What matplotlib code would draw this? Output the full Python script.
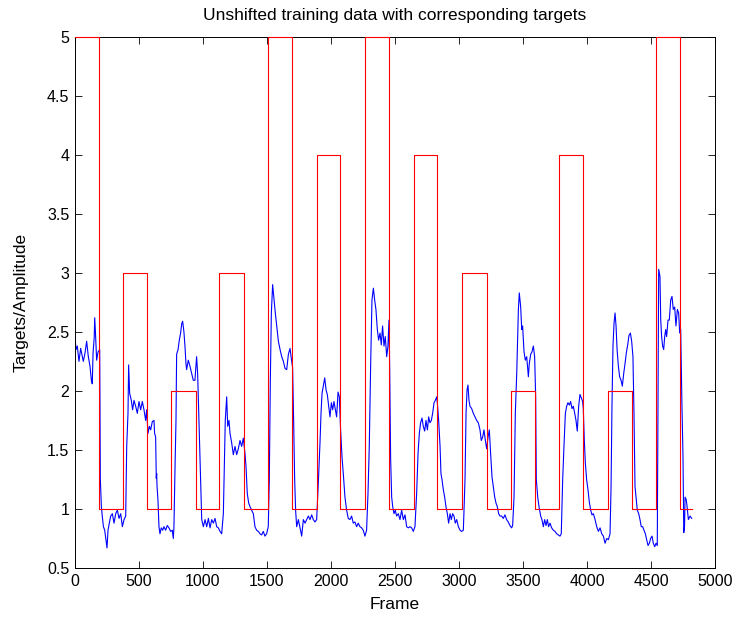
import matplotlib
matplotlib.use("Agg")
import matplotlib.pyplot as plt
import numpy as np

plt.rcParams['font.family'] = ['Liberation Sans', 'DejaVu Sans']

# Target step boundaries (frames) and levels
target_edges = [0, 185, 375, 565, 750, 945, 1128, 1323, 1508, 1692, 1888, 2070, 2266, 2451,
                2645, 2831, 3026, 3221, 3405, 3591, 3785, 3969, 4164, 4352, 4542, 4727, 4818]
target_levels = [5, 1, 3, 1, 2, 1, 3, 1, 5, 1, 4, 1, 5, 1, 4, 1, 3, 1, 2, 1, 4, 1, 2, 1, 5, 1]

frames = [0, 8, 18, 31, 44, 55, 65, 78, 91, 104, 117, 128, 135, 141, 150, 154, 160, 169, 180, 193,
          198, 206, 213, 222, 232, 242, 250, 258, 268, 279, 292, 305, 318, 331, 344, 357, 370, 383, 396,
          404, 414, 419, 427, 440, 450, 461, 474, 487, 500, 513, 526, 539, 552, 560, 570, 581, 591, 604,
          617, 622, 630, 635, 638, 641, 648, 656, 664, 674, 685, 695, 708, 721, 734, 747, 760, 768, 773,
          781, 789, 794, 805, 815, 825, 834, 841, 851, 859, 867, 872, 885, 898, 911, 924, 937, 950, 958,
          969, 982, 990, 1003, 1016, 1029, 1042, 1055, 1068, 1081, 1094, 1107, 1120, 1133, 1146, 1159,
          1167, 1174, 1185, 1193, 1203, 1211, 1224, 1237, 1250, 1263, 1276, 1289, 1302, 1315, 1328, 1336,
          1346, 1357, 1367, 1380, 1393, 1406, 1419, 1432, 1445, 1458, 1471, 1484, 1497, 1510, 1518, 1526,
          1534, 1544, 1555, 1565, 1576, 1589, 1602, 1615, 1628, 1641, 1654, 1667, 1680, 1688, 1700, 1708,
          1716, 1724, 1732, 1745, 1758, 1771, 1784, 1797, 1810, 1823, 1836, 1849, 1862, 1875, 1888, 1896,
          1904, 1914, 1922, 1930, 1940, 1951, 1961, 1971, 1982, 1992, 2003, 2013, 2023, 2034, 2044, 2055,
          2065, 2075, 2086, 2096, 2109, 2122, 2135, 2148, 2161, 2174, 2187, 2200, 2213, 2226, 2239, 2252,
          2265, 2278, 2289, 2299, 2310, 2320, 2331, 2341, 2351, 2362, 2372, 2383, 2393, 2403, 2414, 2424,
          2435, 2445, 2453, 2458, 2466, 2474, 2482, 2492, 2502, 2513, 2526, 2539, 2552, 2565, 2578, 2591,
          2604, 2617, 2630, 2643, 2656, 2669, 2680, 2690, 2700, 2711, 2721, 2732, 2742, 2753, 2763, 2773,
          2784, 2794, 2805, 2815, 2826, 2833, 2841, 2852, 2859, 2867, 2878, 2888, 2898, 2909, 2919, 2930,
          2940, 2950, 2961, 2971, 2982, 2995, 3008, 3021, 3034, 3047, 3055, 3063, 3070, 3078, 3086, 3099,
          3112, 3125, 3138, 3151, 3164, 3174, 3185, 3195, 3206, 3216, 3227, 3237, 3247, 3258, 3268, 3279,
          3289, 3299, 3310, 3320, 3333, 3346, 3359, 3372, 3385, 3398, 3411, 3419, 3430, 3440, 3451, 3464,
          3471, 3482, 3490, 3497, 3508, 3518, 3529, 3542, 3549, 3560, 3570, 3581, 3591, 3599, 3604, 3615,
          3625, 3638, 3648, 3659, 3669, 3680, 3690, 3700, 3711, 3724, 3737, 3750, 3763, 3776, 3789, 3799,
          3810, 3820, 3831, 3841, 3851, 3862, 3872, 3883, 3893, 3904, 3914, 3924, 3935, 3945, 3956, 3966,
          3971, 3979, 3987, 3997, 4008, 4018, 4029, 4039, 4050, 4063, 4076, 4089, 4102, 4115, 4128, 4141,
          4154, 4167, 4180, 4188, 4195, 4203, 4211, 4219, 4227, 4235, 4245, 4255, 4266, 4276, 4287, 4297,
          4307, 4318, 4328, 4339, 4349, 4359, 4367, 4375, 4383, 4393, 4404, 4414, 4424, 4435, 4445, 4456,
          4466, 4477, 4487, 4497, 4508, 4518, 4529, 4539, 4549, 4553, 4560, 4570, 4576, 4583, 4591, 4599,
          4607, 4615, 4622, 4633, 4643, 4654, 4664, 4674, 4685, 4695, 4706, 4716, 4724, 4732, 4741, 4750,
          4756, 4762, 4766, 4775, 4782, 4792, 4805, 4818]
amplitude = [2.46, 2.35, 2.38, 2.25, 2.36, 2.30, 2.25, 2.32, 2.42, 2.29, 2.21, 2.09, 2.06, 2.32, 2.45, 2.62, 2.49, 2.26, 2.33, 2.35,
             1.25, 1.02, 0.94, 0.85, 0.82, 0.74, 0.67, 0.82, 0.88, 0.94, 0.96, 0.88, 0.96, 0.99, 0.92, 0.96, 0.85, 0.91, 0.94,
             1.53, 1.81, 2.22, 1.98, 1.92, 1.84, 1.92, 1.87, 1.81, 1.91, 1.84, 1.91, 1.84, 1.75, 1.84, 1.64, 1.70, 1.67, 1.74,
             1.75, 1.64, 1.61, 1.26, 1.30, 1.19, 1.08, 0.85, 0.79, 0.84, 0.82, 0.85, 0.82, 0.86, 0.84, 0.81, 0.82, 0.75, 0.85,
             1.33, 1.75, 2.31, 2.35, 2.43, 2.49, 2.57, 2.59, 2.50, 2.38, 2.23, 2.18, 2.26, 2.21, 2.15, 2.09, 2.09, 2.29, 2.15,
             1.73, 1.25, 0.91, 0.85, 0.91, 0.85, 0.92, 0.84, 0.91, 0.88, 0.92, 0.85, 0.84, 0.81, 0.79, 0.96,
             1.36, 1.75, 1.95, 1.70, 1.75, 1.64, 1.56, 1.46, 1.53, 1.46, 1.51, 1.58, 1.53, 1.60, 1.47, 1.36,
             1.13, 1.05, 1.02, 0.99, 0.96, 0.85, 0.82, 0.81, 0.79, 0.78, 0.81, 0.77, 0.79, 0.85, 1.25, 2.09,
             2.66, 2.90, 2.77, 2.66, 2.55, 2.42, 2.35, 2.29, 2.25, 2.19, 2.18, 2.31, 2.36, 2.29, 2.20, 1.75,
             1.25, 0.98, 0.85, 0.91, 0.84, 0.77, 0.91, 0.88, 0.91, 0.94, 0.91, 0.95, 0.91, 0.89, 0.91, 1.10,
             1.30, 1.56, 1.81, 1.98, 2.04, 2.11, 2.01, 1.97, 1.87, 1.78, 1.90, 1.84, 1.91, 1.84, 1.78, 1.99,
             1.95, 1.67, 1.44, 1.30, 1.10, 0.99, 0.92, 0.91, 0.94, 0.88, 0.89, 0.85, 0.88, 0.85, 0.84, 0.82,
             0.77, 0.82, 1.13, 1.53, 2.23, 2.77, 2.87, 2.77, 2.69, 2.52, 2.43, 2.49, 2.39, 2.55, 2.38, 2.46,
             2.29, 2.38, 2.60, 2.23, 1.42, 1.10, 1.02, 0.96, 0.99, 0.94, 0.96, 0.91, 0.99, 0.91, 0.95, 0.85,
             0.84, 0.85, 0.84, 0.81, 0.85, 1.13, 1.47, 1.64, 1.73, 1.77, 1.70, 1.66, 1.75, 1.67, 1.78, 1.73,
             1.75, 1.81, 1.90, 1.92, 1.95, 1.87, 1.75, 1.53, 1.30, 1.25, 1.16, 1.10, 1.02, 0.96, 0.88, 0.96,
             0.91, 0.96, 0.94, 0.88, 0.91, 0.85, 0.82, 0.81, 0.82, 1.25, 1.81, 2.01, 2.05, 1.92, 1.87, 1.85,
             1.81, 1.78, 1.75, 1.73, 1.67, 1.58, 1.61, 1.67, 1.58, 1.51, 1.61, 1.67, 1.47, 1.27, 1.19, 1.10,
             1.05, 1.02, 0.96, 0.94, 0.94, 0.92, 0.95, 0.91, 0.89, 0.86, 0.84, 0.86, 1.10, 1.81, 2.15, 2.69,
             2.83, 2.71, 2.52, 2.55, 2.33, 2.26, 2.29, 2.12, 2.23, 2.31, 2.33, 2.38, 2.29, 1.95, 1.25, 1.10,
             1.02, 0.94, 0.91, 0.85, 0.91, 0.86, 0.91, 0.85, 0.88, 0.84, 0.82, 0.81, 0.79, 0.78, 0.77, 0.79,
             1.25, 1.53, 1.81, 1.87, 1.90, 1.88, 1.91, 1.85, 1.87, 1.81, 1.75, 1.66, 1.87, 1.97, 1.94, 1.91,
             1.85, 1.58, 1.39, 1.25, 1.16, 1.06, 0.99, 0.95, 0.96, 0.91, 0.85, 0.81, 0.84, 0.79, 0.77, 0.71,
             0.75, 0.74, 0.79, 1.19, 1.87, 2.38, 2.57, 2.66, 2.55, 2.35, 2.21, 2.12, 2.09, 2.04, 2.15, 2.23,
             2.32, 2.39, 2.47, 2.49, 2.42, 2.29, 1.81, 1.19, 1.10, 0.99, 0.96, 0.91, 0.85, 0.85, 0.82, 0.79,
             0.74, 0.69, 0.71, 0.75, 0.77, 0.71, 0.68, 0.71, 0.69, 1.60, 3.03, 2.97, 2.60, 2.46, 2.38, 2.35,
             2.46, 2.52, 2.46, 2.60, 2.60, 2.77, 2.80, 2.69, 2.71, 2.55, 2.69, 2.66, 2.49, 2.52, 1.92, 1.44,
             0.80, 0.85, 1.10, 1.08, 1.02, 0.91, 0.94, 0.92]

x_ticks = [0, 500, 1000, 1500, 2000, 2500, 3000, 3500, 4000, 4500, 5000]
y_ticks = [0.5, 1, 1.5, 2, 2.5, 3, 3.5, 4, 4.5, 5]
y_ticklabels = ['0.5', '1', '1.5', '2', '2.5', '3', '3.5', '4', '4.5', '5']

fig = plt.figure(figsize=(7.36, 6.24), dpi=100)
ax = fig.add_axes([75 / 736, 1 - 568 / 624, 640 / 736, (568 - 36.7) / 624])

ax.plot(frames, amplitude, color=(0, 0, 1), linewidth=0.8)
ax.step(target_edges, target_levels + [target_levels[-1]], where='post',
        color=(1, 0, 0), linewidth=0.8, clip_on=False, zorder=3)

ax.set_xlim(0, 5000)
ax.set_ylim(0.5, 5)
ax.set_xticks(x_ticks)
ax.set_xticklabels([str(t) for t in x_ticks])
ax.set_yticks(y_ticks)
ax.set_yticklabels(y_ticklabels)
ax.tick_params(direction='in', top=True, right=True, length=5, width=0.6,
               labelsize=11.5, pad=4)
for s in ax.spines.values():
    s.set_linewidth(0.7)
ax.set_title('Unshifted training data with corresponding targets', fontsize=12.5, pad=12)
ax.set_xlabel('Frame', fontsize=12.5, labelpad=6)
ax.set_ylabel('Targets/Amplitude', fontsize=12.5, labelpad=13)

fig.savefig('out.png', dpi=100)
